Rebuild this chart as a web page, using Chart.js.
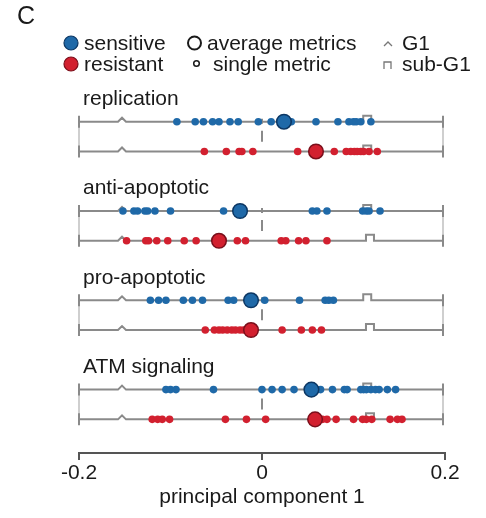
<!DOCTYPE html>
<html>
<head>
<meta charset="utf-8">
<script src="https://cdn.jsdelivr.net/npm/chart.js@4"></script>
<style>
  html, body { margin: 0; padding: 0; background: #fff; }
  #wrap { width: 486px; height: 518px; }
</style>
</head>
<body>
<div id="wrap"><canvas id="chart" width="486" height="518"></canvas></div>
<script>
// pathway groups, top to bottom
const groups = ['replication', 'anti-apoptotic', 'pro-apoptotic', 'ATM signaling'];

// single metrics (principal component 1), sensitive / resistant
const replicationSens = [-0.093, -0.073, -0.064, -0.054, -0.047, -0.035, -0.026, -0.004, 0.010, 0.032, 0.059, 0.083, 0.095, 0.100, 0.103, 0.108, 0.119];
const replicationRes = [-0.063, -0.039, -0.025, -0.022, -0.010, 0.039, 0.079, 0.092, 0.097, 0.101, 0.104, 0.108, 0.111, 0.117, 0.126];
const antiSens = [-0.152, -0.140, -0.136, -0.128, -0.125, -0.117, -0.100, -0.042, 0.055, 0.060, 0.071, 0.110, 0.114, 0.117, 0.129];
const antiRes = [-0.148, -0.127, -0.124, -0.115, -0.103, -0.085, -0.072, -0.027, -0.018, 0.021, 0.026, 0.040, 0.048, 0.071];
const proSens = [-0.122, -0.113, -0.105, -0.086, -0.076, -0.065, -0.037, -0.031, 0.003, 0.041, 0.069, 0.073, 0.078];
const proRes = [-0.062, -0.052, -0.047, -0.043, -0.038, -0.033, -0.029, -0.024, -0.020, 0.022, 0.043, 0.055, 0.065];
const atmSens = [-0.105, -0.100, -0.094, -0.053, 0.000, 0.011, 0.022, 0.035, 0.064, 0.077, 0.090, 0.093, 0.108, 0.111, 0.114, 0.119, 0.124, 0.128, 0.137, 0.146];
const atmRes = [-0.120, -0.114, -0.109, -0.101, -0.040, -0.017, 0.004, 0.066, 0.071, 0.081, 0.100, 0.110, 0.114, 0.120, 0.140, 0.148, 0.153];

// average metrics per group
const avgSens = [0.024, -0.024, -0.012, 0.054];
const avgRes = [0.059, -0.047, -0.012, 0.058];

// G1 and sub-G1 reference positions, rows in order (sens, res) per group
const g1Pos = [-0.153, -0.153, -0.153, -0.153, -0.153, -0.153, -0.153, -0.153];
const subG1Pos = [0.115, 0.115, 0.115, 0.118, 0.115, 0.118, 0.115, 0.118];

// x axis ticks
const xTicks = [-0.2, 0, 0.2];

const sensSingles = [replicationSens, antiSens, proSens, atmSens];
const resSingles = [replicationRes, antiRes, proRes, atmRes];

const BLUE = '#1f69a8';
const BLUE_DARK = '#0c3764';
const RED = '#d2202f';
const RED_DARK = '#7a0f1b';
const GREY = '#8a8a8a';
const FONT = '"Liberation Sans", Arial, sans-serif';

// row value on the y scale: sensitive = g*3, resistant = g*3+1
const rowY = (g, r) => g * 3 + r;

const pts = (arrs, r) => arrs.flatMap((a, g) => a.map(x => ({ x: x, y: rowY(g, r) })));
const avgPts = (a, r) => a.map((x, g) => ({ x: x, y: rowY(g, r) }));

const zeroLines = groups.map((name, g) => ({
  type: 'line',
  data: [{ x: 0, y: rowY(g, 0) - 0.1 }, { x: 0, y: rowY(g, 1) }],
  borderColor: GREY,
  borderWidth: 2,
  borderDash: [5, 7, 11, 100],
  pointRadius: 0,
  order: 5
}));

// row baselines with G1 / sub-G1 markers, groups labels
const rowsPlugin = {
  id: 'rows',
  beforeDatasetsDraw(chart) {
    const { ctx, scales: { x, y } } = chart;
    const x0 = x.getPixelForValue(-0.2);
    const x1 = x.getPixelForValue(0.2) - 2;
    ctx.save();
    groups.forEach((name, g) => {
      // faint connectors at both ends
      ctx.strokeStyle = '#cfcfcf';
      ctx.lineWidth = 2;
      [x0, x1].forEach(px => {
        ctx.beginPath();
        ctx.moveTo(px, y.getPixelForValue(rowY(g, 0)));
        ctx.lineTo(px, y.getPixelForValue(rowY(g, 1)));
        ctx.stroke();
      });
      for (let r = 0; r < 2; r++) {
        const i = g * 2 + r;
        const py = y.getPixelForValue(rowY(g, r));
        const gx = x.getPixelForValue(g1Pos[i]);
        const sx = x.getPixelForValue(subG1Pos[i]);
        ctx.strokeStyle = GREY;
        ctx.lineWidth = 2;
        ctx.lineJoin = 'miter';
        ctx.beginPath();
        ctx.moveTo(x0, py);
        ctx.lineTo(gx - 4, py);
        ctx.lineTo(gx, py - 4);
        ctx.lineTo(gx + 4, py);
        ctx.lineTo(sx - 4, py);
        ctx.lineTo(sx - 4, py - 6);
        ctx.lineTo(sx + 4, py - 6);
        ctx.lineTo(sx + 4, py);
        ctx.lineTo(x1, py);
        ctx.stroke();
        // end caps
        ctx.beginPath();
        ctx.moveTo(x0, py - 6); ctx.lineTo(x0, py + 6);
        ctx.moveTo(x1, py - 6); ctx.lineTo(x1, py + 6);
        ctx.stroke();
      }
      ctx.fillStyle = '#1a1a1a';
      ctx.font = '21px ' + FONT;
      ctx.textAlign = 'left';
      ctx.textBaseline = 'alphabetic';
      ctx.fillText(name, x0 + 4, y.getPixelForValue(rowY(g, 0) - 0.56));
    });
    ctx.restore();
  },
  afterDraw(chart) {
    const ctx = chart.ctx;
    ctx.save();
    ctx.fillStyle = '#1a1a1a';
    ctx.textBaseline = 'middle';
    ctx.textAlign = 'left';
    ctx.font = '25px ' + FONT;
    ctx.fillText('C', 17, 17);
    ctx.font = '21px ' + FONT;
    // color entries
    const dot = (cx, cy, r, fill, stroke, lw) => {
      ctx.beginPath();
      ctx.arc(cx, cy, r, 0, Math.PI * 2);
      if (fill) { ctx.fillStyle = fill; ctx.fill(); }
      if (stroke) { ctx.strokeStyle = stroke; ctx.lineWidth = lw; ctx.stroke(); }
    };
    dot(71, 43, 7, BLUE, BLUE_DARK, 1.2);
    dot(71, 64, 7, RED, RED_DARK, 1.2);
    dot(194.5, 43, 6.5, null, '#1a1a1a', 2);
    dot(196.5, 63.5, 2.8, null, '#1a1a1a', 1.5);
    ctx.fillStyle = '#1a1a1a';
    ctx.fillText('sensitive', 84, 44);
    ctx.fillText('resistant', 84, 65);
    ctx.fillText('average metrics', 207, 44);
    ctx.fillText('single metric', 213, 65);
    ctx.fillText('G1', 402, 44);
    ctx.fillText('sub-G1', 402, 65);
    ctx.strokeStyle = '#777';
    ctx.lineWidth = 1.3;
    ctx.beginPath();
    ctx.moveTo(384, 46); ctx.lineTo(388, 42); ctx.lineTo(392, 46);
    ctx.stroke();
    ctx.beginPath();
    ctx.moveTo(384, 69); ctx.lineTo(384, 62); ctx.lineTo(391, 62); ctx.lineTo(391, 69);
    ctx.stroke();
    ctx.restore();
  }
};

new Chart(document.getElementById('chart'), {
  type: 'scatter',
  data: {
    datasets: [
      ...zeroLines,
      {
        label: 'sensitive',
        data: pts(sensSingles, 0),
        backgroundColor: BLUE,
        borderWidth: 0,
        pointRadius: 3.8,
        order: 3
      },
      {
        label: 'resistant',
        data: pts(resSingles, 1),
        backgroundColor: RED,
        borderWidth: 0,
        pointRadius: 3.8,
        order: 3
      },
      {
        label: 'sensitive average',
        data: avgPts(avgSens, 0),
        backgroundColor: BLUE,
        borderColor: BLUE_DARK,
        borderWidth: 1.5,
        pointRadius: 7.3,
        order: 1
      },
      {
        label: 'resistant average',
        data: avgPts(avgRes, 1),
        backgroundColor: RED,
        borderColor: RED_DARK,
        borderWidth: 1.5,
        pointRadius: 7.3,
        order: 1
      }
    ]
  },
  options: {
    responsive: false,
    animation: false,
    events: [],
    layout: { padding: { left: 79, right: 41, top: 83, bottom: 4 } },
    plugins: { legend: { display: false }, tooltip: { enabled: false } },
    scales: {
      x: {
        type: 'linear',
        min: -0.2,
        max: 0.2,
        afterBuildTicks: s => { s.ticks = xTicks.map(v => ({ value: v })); },
        afterFit: s => { s.height = 61; },
        ticks: {
          color: '#1a1a1a',
          font: { size: 21, family: FONT },
          padding: 1,
          maxRotation: 0,
          callback: v => (v === 0 ? '0' : String(v))
        },
        grid: { drawOnChartArea: false, color: '#555', lineWidth: 2, tickLength: 7 },
        border: { color: '#555', width: 2 },
        title: {
          display: true,
          text: 'principal component 1',
          color: '#1a1a1a',
          font: { size: 21, family: FONT },
          padding: { top: 0, bottom: 4 }
        }
      },
      y: {
        type: 'linear',
        display: false,
        reverse: true,
        min: -1.3,
        max: 11.13
      }
    }
  },
  plugins: [rowsPlugin]
});
</script>
</body>
</html>
